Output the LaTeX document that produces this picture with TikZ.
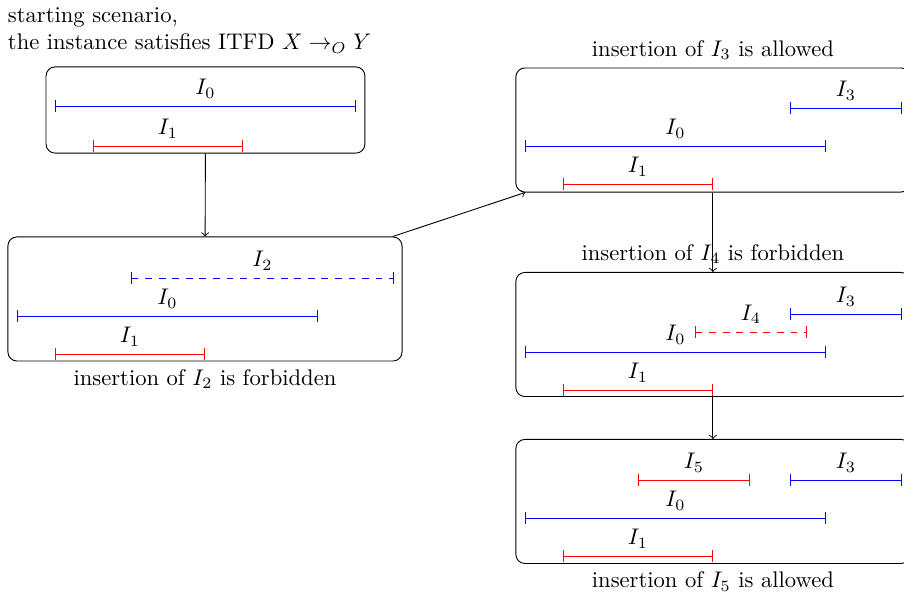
\documentclass[tikz,border=0pt]{standalone}
\usepackage{amsmath,amssymb}
\usepackage{tikz}
\usetikzlibrary{positioning}

\tikzset{
  scen/.style={draw, rounded corners=4pt, minimum width=6.13cm, minimum height=1.93cm},
  ivl/.style={|-|, thin},
  ivlabel/.style={above, midway}
}

\begin{document}
\begin{tikzpicture}
\fill[white, use as bounding box] (0,0) rectangle (14.06,-9.207);
% starting scenario
\node[anchor=north west, align=left] (intro) at (0,0) {starting scenario,\\the instance satisfies ITFD $X \to_O Y$};
\node[scen, minimum width=4.96cm, minimum height=1.34cm] (s0) at (3.196,-1.711) {};
\draw[ivl, draw=blue] (0.855,-1.649) -- node[ivlabel] {$I_0$} (5.537,-1.649);
\draw[ivl, draw=red] (1.446,-2.271) -- node[ivlabel] {$I_1$} (3.779,-2.271);
% insertion of I2, forbidden
\node[scen] (s1) at (3.188,-4.650) {};
\node[below=0pt of s1] (c1) {insertion of $I_2$ is forbidden};
\draw[ivl, draw=blue, dashed] (2.037,-4.324) -- node[ivlabel] {$I_2$} (6.128,-4.324);
\draw[ivl, draw=blue] (0.264,-4.915) -- node[ivlabel] {$I_0$} (4.946,-4.915);
\draw[ivl, draw=red] (0.855,-5.506) -- node[ivlabel] {$I_1$} (3.188,-5.506);
% insertion of I3, allowed
\node[scen] (s2) at (11.088,-2.022) {};
\node[above=0pt of s2] (c2) {insertion of $I_3$ is allowed};
\draw[ivl, draw=blue] (12.286,-1.680) -- node[ivlabel] {$I_3$} (14.028,-1.680);
\draw[ivl, draw=blue] (8.165,-2.271) -- node[ivlabel] {$I_0$} (12.846,-2.271);
\draw[ivl, draw=red] (8.756,-2.862) -- node[ivlabel] {$I_1$} (11.089,-2.862);
% insertion of I4, forbidden
\node[scen] (s3) at (11.088,-5.202) {};
\node[above=0pt of s3] (c3) {insertion of $I_4$ is forbidden};
\draw[ivl, draw=blue] (12.286,-4.884) -- node[ivlabel] {$I_3$} (14.028,-4.884);
\draw[ivl, draw=red, dashed] (10.809,-5.163) -- node[ivlabel] {$I_4$} (12.551,-5.163);
\draw[ivl, draw=blue] (8.165,-5.475) -- node[ivlabel] {$I_0$} (12.846,-5.475);
\draw[ivl, draw=red] (8.756,-6.066) -- node[ivlabel] {$I_1$} (11.089,-6.066);
% insertion of I5, allowed
\node[scen] (s4) at (11.088,-7.799) {};
\node[below=0pt of s4] (c4) {insertion of $I_5$ is allowed};
\draw[ivl, draw=red] (9.922,-7.465) -- node[ivlabel] {$I_5$} (11.664,-7.465);
\draw[ivl, draw=blue] (12.286,-7.465) -- node[ivlabel] {$I_3$} (14.028,-7.465);
\draw[ivl, draw=blue] (8.165,-8.056) -- node[ivlabel] {$I_0$} (12.846,-8.056);
\draw[ivl, draw=red] (8.756,-8.648) -- node[ivlabel] {$I_1$} (11.089,-8.648);
% transitions
\draw[->] (s0) -- (s1);
\draw[->] (s1) -- (s2);
\draw[->] (s2) -- (s3);
\draw[->] (s3) -- (s4);
\end{tikzpicture}
\end{document}
